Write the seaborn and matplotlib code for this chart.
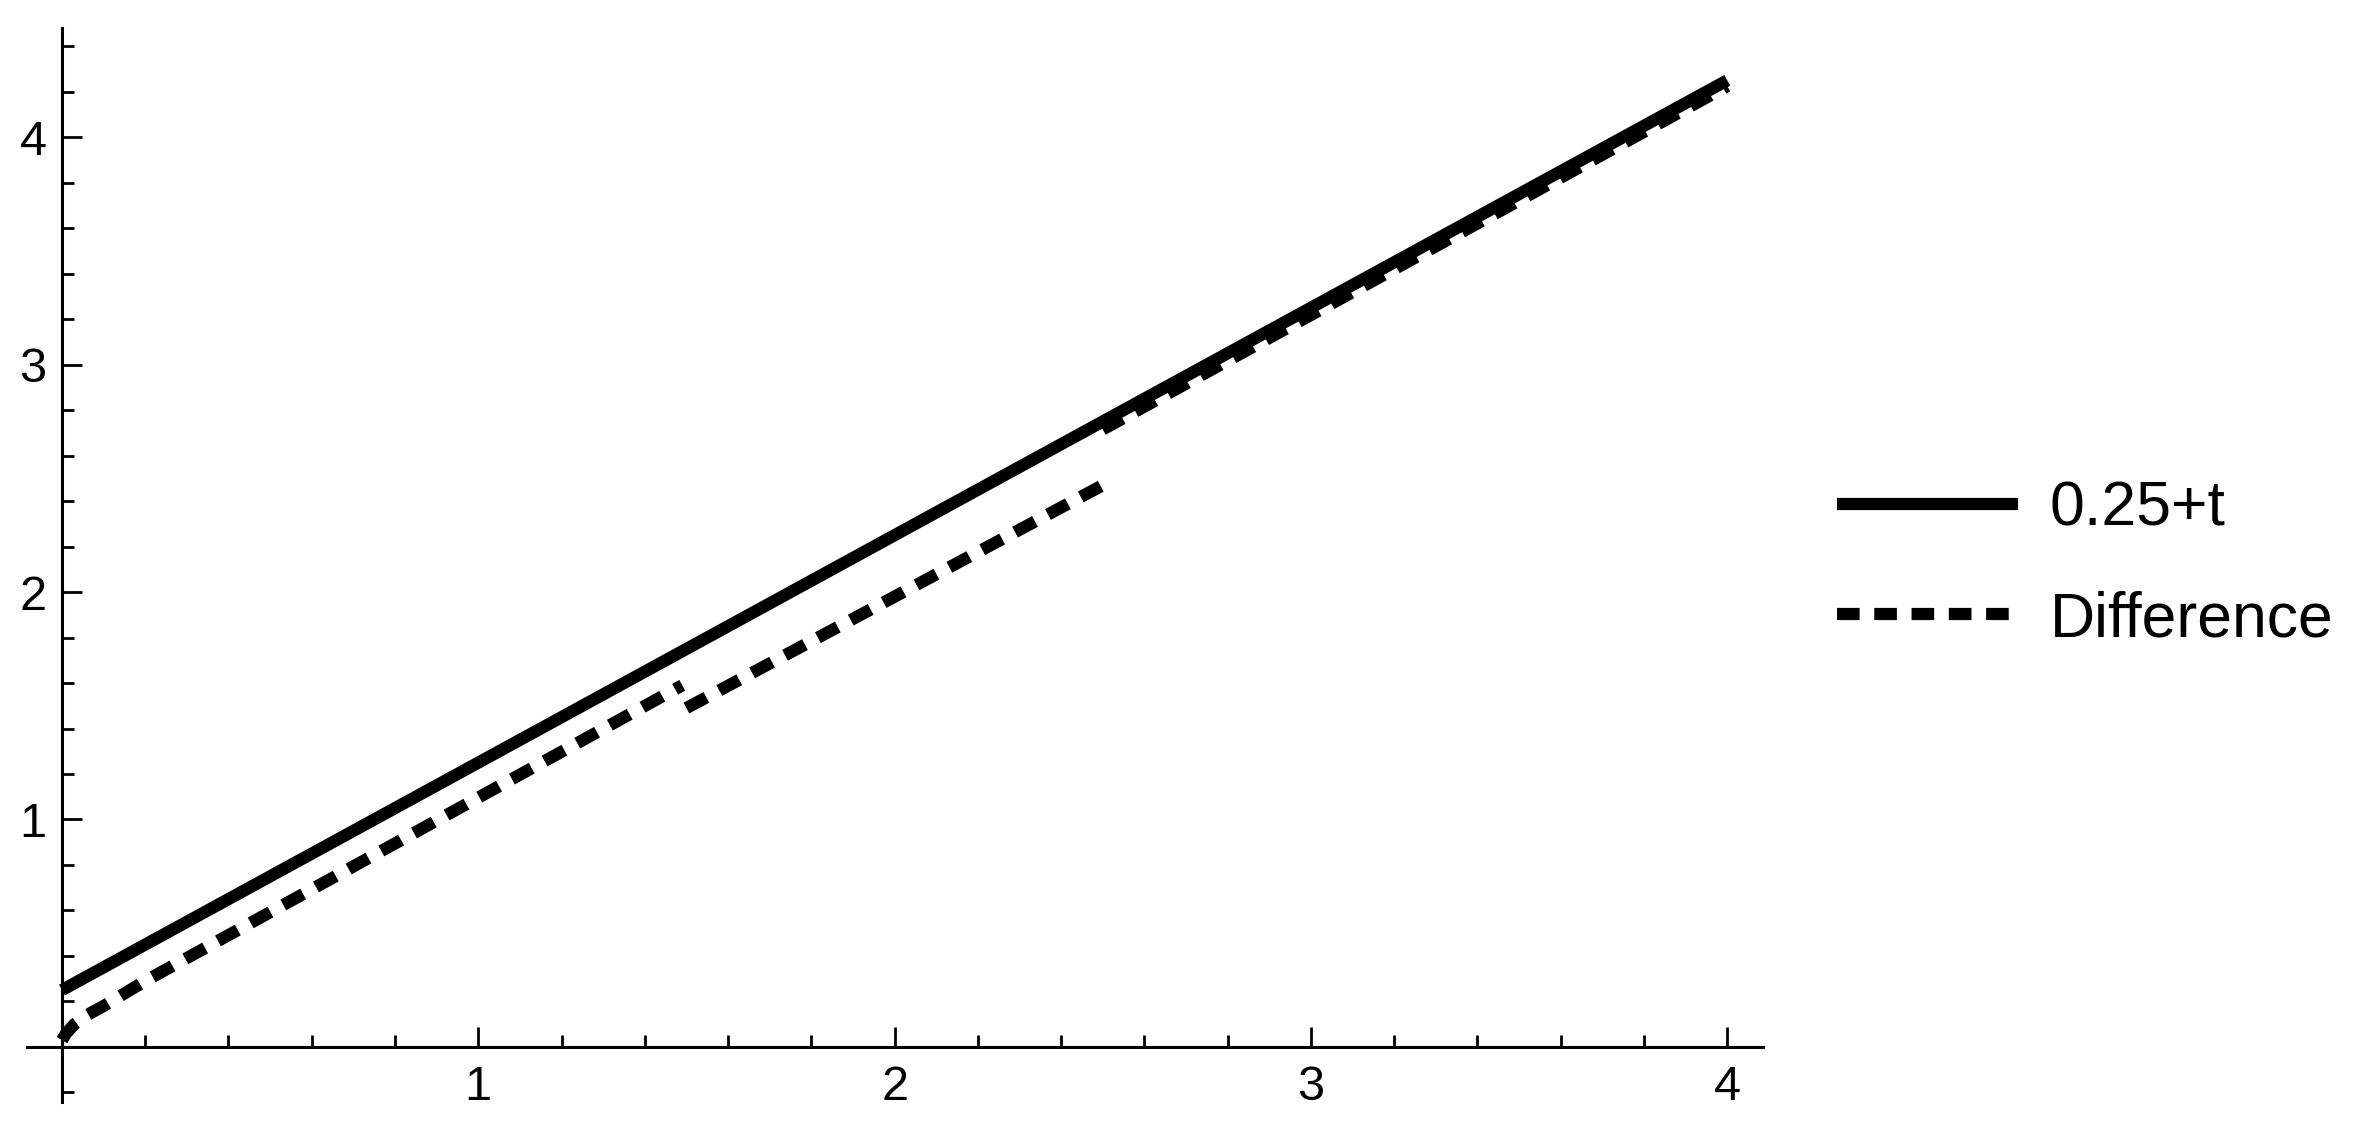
import numpy as np
import pandas as pd
import matplotlib
matplotlib.use("Agg")
import matplotlib.pyplot as plt
from matplotlib.lines import Line2D
import seaborn as sns

# ── data ──────────────────────────────────────────────────────────────────────
T_SOLID = [0.0, 4.0]
Y_SOLID = [0.25, 4.25]

# "Difference" is drawn in three separate pieces
T_DIFF_1 = [0.0, 0.01, 0.03, 0.06, 0.10, 0.20, 1.49]
Y_DIFF_1 = [0.03, 0.06, 0.10, 0.14, 0.18, 0.29, 1.59]
T_DIFF_2 = [1.50, 2.50]
Y_DIFF_2 = [1.49, 2.47]
T_DIFF_3 = [2.50, 4.00]
Y_DIFF_3 = [2.715, 4.225]

X_MAJOR = [1, 2, 3, 4]
Y_MAJOR = [1, 2, 3, 4]
X_MINOR = [0.2, 0.4, 0.6, 0.8, 1.2, 1.4, 1.6, 1.8, 2.2, 2.4, 2.6, 2.8,
           3.2, 3.4, 3.6, 3.8]
Y_MINOR = [-0.2, 0.2, 0.4, 0.6, 0.8, 1.2, 1.4, 1.6, 1.8, 2.2, 2.4, 2.6, 2.8,
           3.2, 3.4, 3.6, 3.8, 4.2, 4.4]

LABELS = ["0.25+t", "Difference"]

# ── style ────────────────────────────────────────────────────────────────────
sns.set_style("white")
plt.rcParams["font.family"] = ["Liberation Sans", "DejaVu Sans"]
plt.rcParams["text.color"] = "black"

LW = 4.4
DASH = (0, (1.85, 1.2))

fig = plt.figure(figsize=(11.81, 5.61), dpi=200)
ax = fig.add_axes([0.01143, 0.01827, 0.7464 - 0.01143, 0.975 - 0.01827])

pieces = [(T_DIFF_1, Y_DIFF_1), (T_DIFF_2, Y_DIFF_2), (T_DIFF_3, Y_DIFF_3)]
for t, y in pieces:
    sns.lineplot(x=t, y=y, ax=ax, color="black", linewidth=LW,
                 linestyle=DASH, dash_capstyle="butt", sort=False)

sns.lineplot(x=T_SOLID, y=Y_SOLID, ax=ax, color="black", linewidth=LW,
             solid_capstyle="butt", sort=False)

ax.set_xlim(-0.084, 4.086)
ax.set_ylim(-0.24, 4.48)

# Mathematica-style axes crossing at the origin
for side in ["top", "right"]:
    ax.spines[side].set_visible(False)
for side in ["left", "bottom"]:
    ax.spines[side].set_position(("data", 0))
    ax.spines[side].set_linewidth(1.1)
    ax.spines[side].set_color("black")

ax.set_xticks(X_MAJOR)
ax.set_yticks(Y_MAJOR)
ax.set_xticks(X_MINOR, minor=True)
ax.set_yticks(Y_MINOR, minor=True)
ax.set_xticklabels([str(v) for v in X_MAJOR])
ax.set_yticklabels([str(v) for v in Y_MAJOR])

ax.tick_params(which="both", bottom=True, left=True, top=False, right=False)
ax.tick_params(which="major", direction="in", length=7.2, width=1.0,
               color="black", labelsize=17.5, labelcolor="black")
ax.tick_params(which="minor", direction="in", length=4.3, width=1.0,
               color="black")
ax.tick_params(axis="x", which="major", pad=6.5)
ax.tick_params(axis="y", which="major", pad=5.5)
ax.set_xlabel("")
ax.set_ylabel("")
ax.grid(False)

# legend on the right
handles = [
    Line2D([0], [0], color="black", linewidth=LW, solid_capstyle="butt"),
    Line2D([0], [0], color="black", linewidth=LW, linestyle=DASH,
           dash_capstyle="butt"),
]
leg = fig.legend(handles, LABELS, loc="center left",
                 bbox_to_anchor=(0.7777, 0.4969), frameon=False, fontsize=22.5,
                 handlelength=2.9, handletextpad=0.5, labelspacing=0.82,
                 borderpad=0, borderaxespad=0)
for txt in leg.get_texts():
    txt.set_color("black")

fig.savefig("out.png", dpi=200, facecolor="white")
plt.close(fig)
